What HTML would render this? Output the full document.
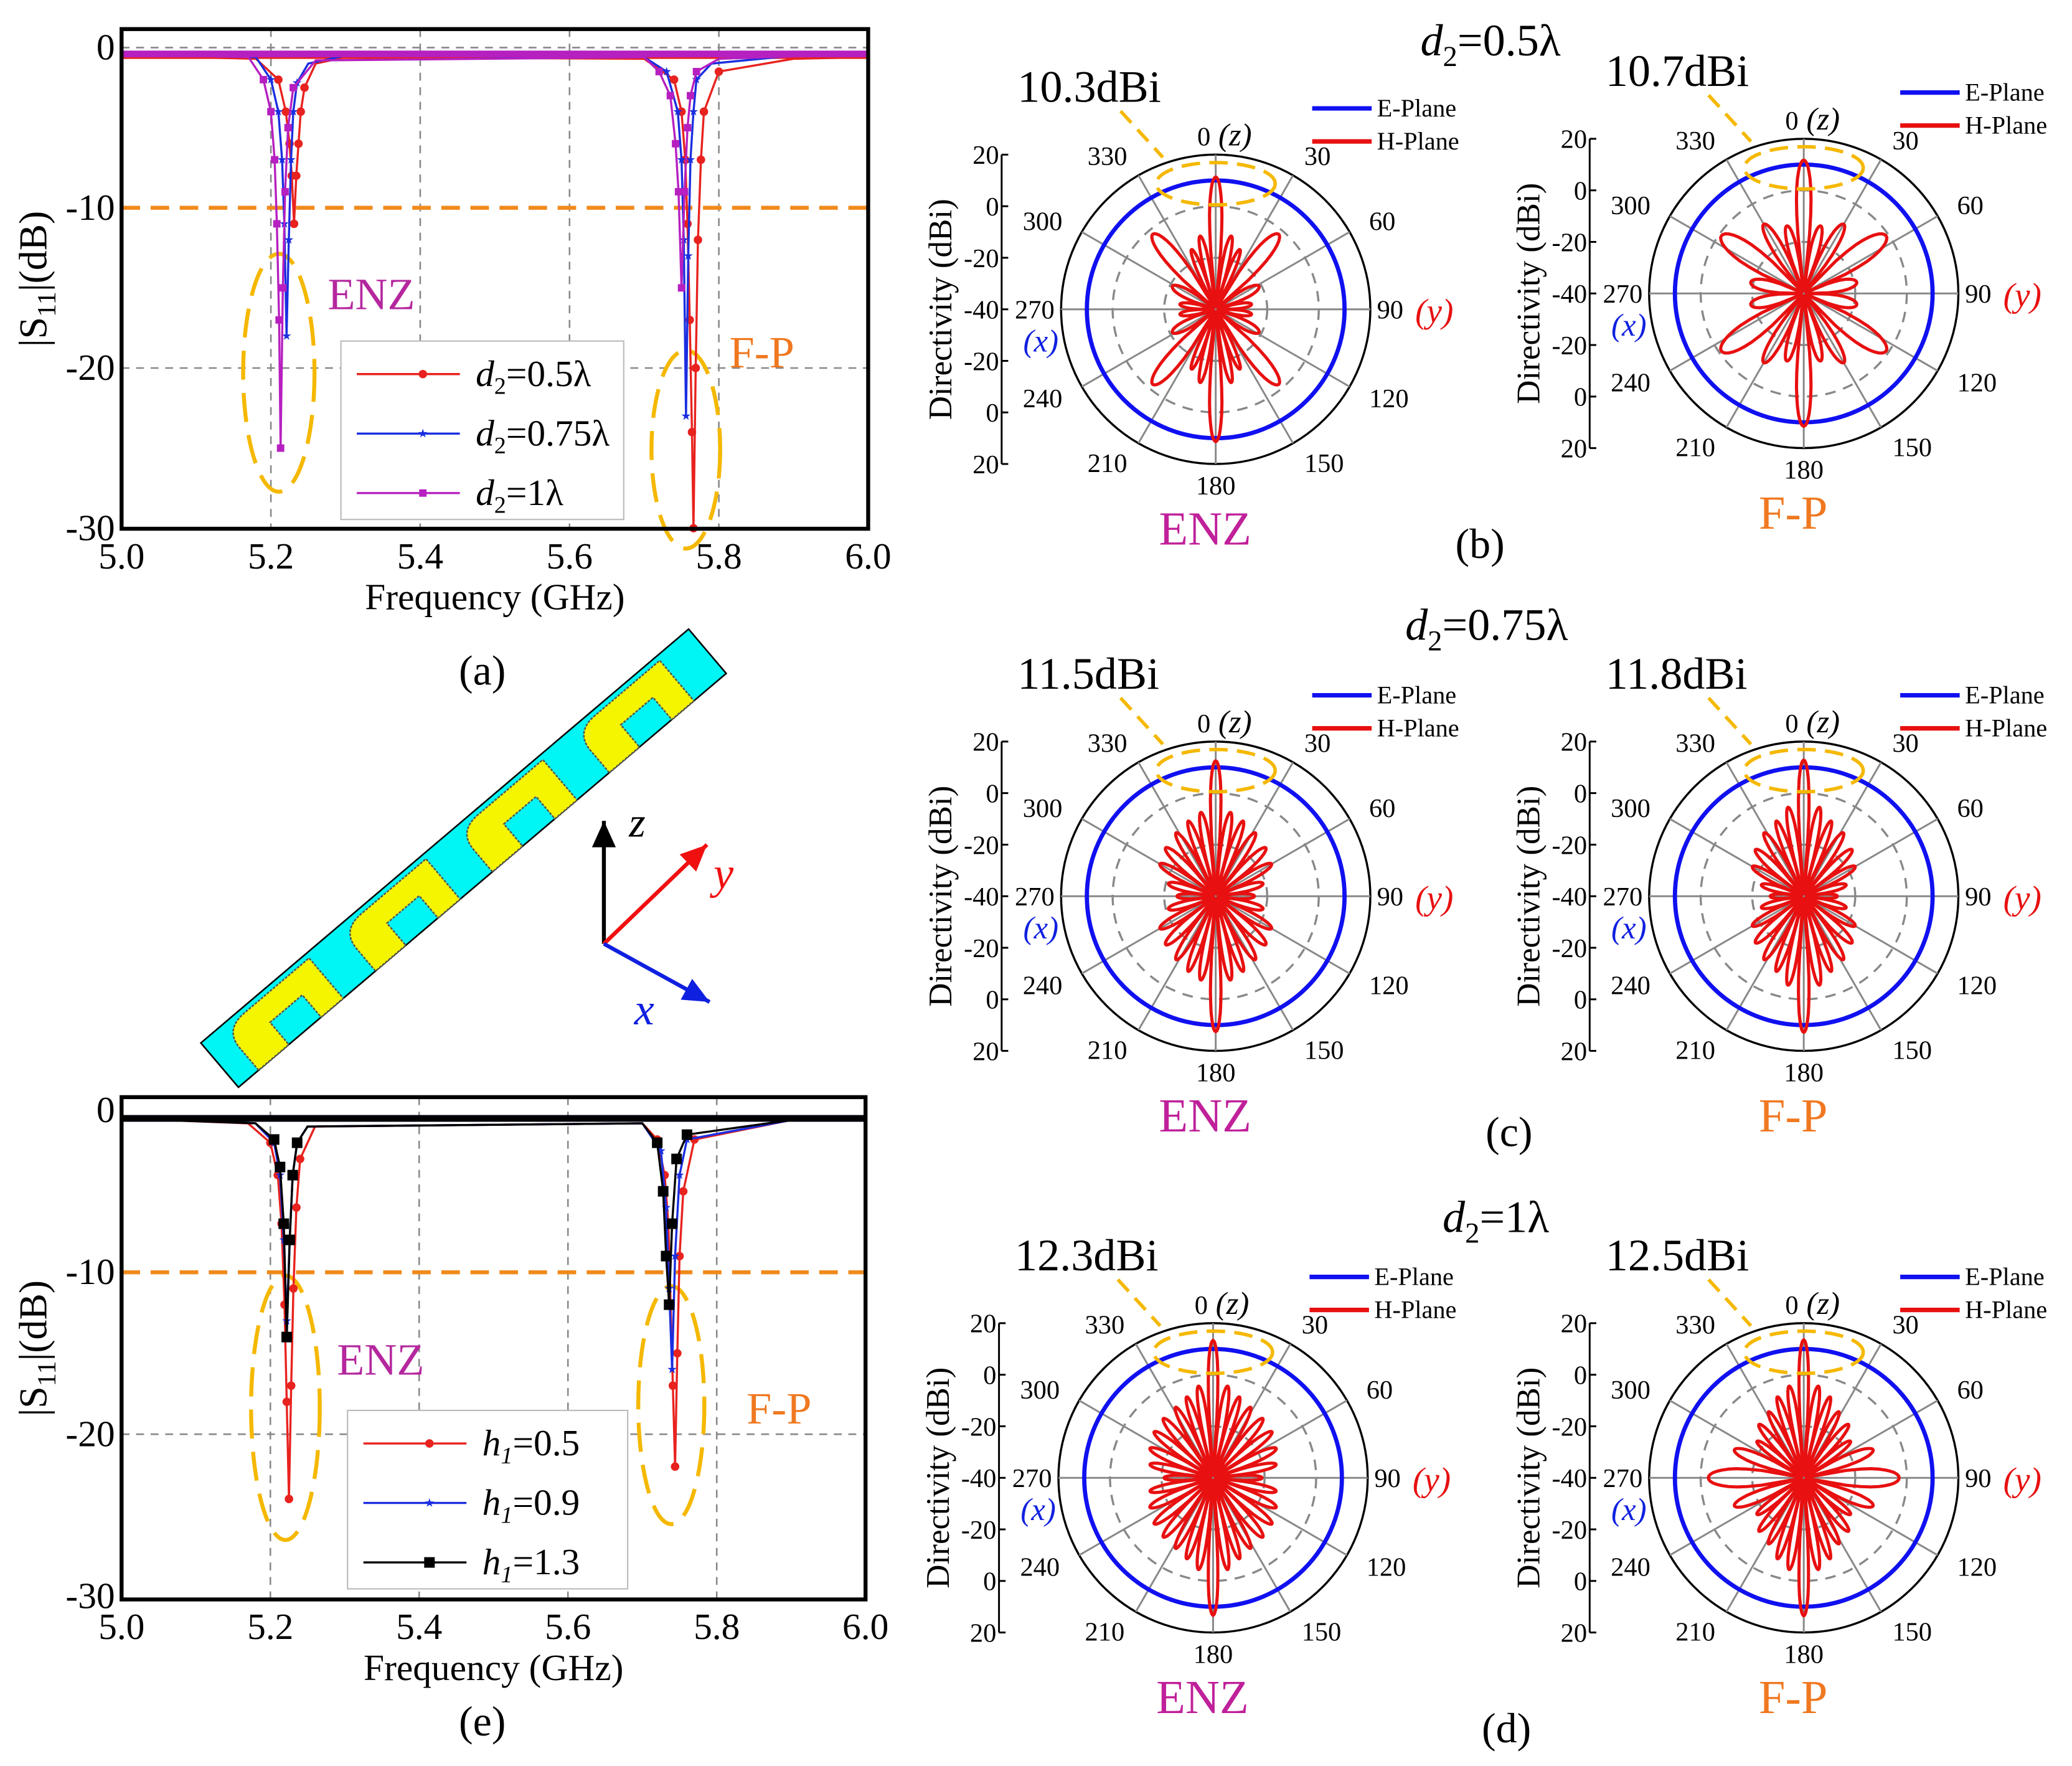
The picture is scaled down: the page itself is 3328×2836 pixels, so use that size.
<!DOCTYPE html>
<html><head><meta charset="utf-8"><style>
html,body{margin:0;padding:0;background:#fff;}
svg{display:block;font-family:"Liberation Serif","Times New Roman",serif;}
svg text{font-family:"Liberation Serif","Times New Roman",serif;}
</style></head><body>
<svg id="fig" xmlns="http://www.w3.org/2000/svg" width="3328" height="2836" viewBox="0 0 1568 1336" preserveAspectRatio="none" font-family="Liberation Serif, serif">
<rect width="1568" height="1336" fill="#fff"/>
</svg>
<script>
// ---------- S11 data (a) ----------
const aRedF=[5.0,5.18,5.21,5.22,5.225,5.228,5.231,5.234,5.237,5.24,5.245,5.26,5.3,5.7,5.74,5.75,5.755,5.758,5.761,5.764,5.766,5.769,5.772,5.776,5.78,5.8,5.9,6.0];
const aRedV=[-0.5,-0.7,-2,-4,-6,-8,-11,-8,-6,-4,-2.5,-1,-0.6,-0.7,-2,-4,-7,-11,-17,-24,-30,-20,-12,-7,-4,-1.5,-0.7,-0.6];
const aBlueF=[5.0,5.18,5.2,5.21,5.215,5.218,5.221,5.224,5.227,5.23,5.235,5.25,5.3,5.7,5.73,5.745,5.75,5.753,5.756,5.759,5.762,5.766,5.77,5.79,5.9,6.0];
const aBlueV=[-0.4,-0.6,-2,-4,-7,-11,-18,-12,-7,-4,-2.2,-1,-0.5,-0.6,-1.5,-4,-7,-12,-23,-13,-7,-4,-2,-1,-0.5,-0.4];
const aPurF=[5.0,5.17,5.19,5.2,5.205,5.208,5.211,5.213,5.216,5.219,5.223,5.23,5.26,5.7,5.72,5.735,5.742,5.746,5.75,5.754,5.758,5.762,5.77,5.8,6.0];
const aPurV=[-0.4,-0.6,-2,-4,-7,-11,-17,-25,-15,-9,-5,-2.5,-0.8,-0.6,-1.5,-3,-6,-9,-15,-9,-5,-3,-1.5,-0.7,-0.4];
// ---------- S11 data (e) ----------
const eRedF=[5.0,5.17,5.2,5.21,5.215,5.219,5.222,5.225,5.228,5.231,5.235,5.24,5.26,5.7,5.72,5.73,5.735,5.738,5.741,5.744,5.747,5.75,5.755,5.77,5.9,6.0];
const eRedV=[-0.5,-0.8,-2,-4,-7,-12,-18,-24,-17,-11,-6,-3,-1,-0.8,-1.8,-4,-7,-12,-17,-22,-15,-9,-5,-1.8,-0.6,-0.5];
const eBlueF=[5.0,5.18,5.205,5.213,5.218,5.222,5.226,5.23,5.236,5.25,5.7,5.725,5.732,5.736,5.74,5.744,5.75,5.76,5.9,6.0];
const eBlueV=[-0.5,-0.8,-2,-4,-8,-13,-8,-4,-2,-1,-0.8,-2.5,-6,-11,-16,-9,-4,-1.8,-0.6,-0.5];
const eBlkF=[5.0,5.18,5.205,5.213,5.218,5.222,5.226,5.23,5.236,5.25,5.7,5.72,5.728,5.732,5.736,5.74,5.746,5.76,5.9,6.0];
const eBlkV=[-0.5,-0.8,-1.8,-3.5,-7,-14,-8,-4,-2,-1,-0.8,-2,-5,-9,-12,-7,-3,-1.5,-0.6,-0.5];
const xTicks=["5.0","5.2","5.4","5.6","5.8","6.0"];
const yTicks=["0","-10","-20","-30"];
// ---------- Polar data (lobe directions in deg, peak directivity dBi) ----------
const lobeAngB1=[0,12,22,40,62,82,98,118,140,158,168,180,192,202,220,242,262,278,298,320,338,348];
const lobeValB1=[10.3,-12,-16,-3,-22,-27,-27,-22,-3,-16,-12,10.3,-12,-16,-3,-22,-27,-27,-22,-3,-16,-12];
const lobeAngB2=[0,14,30,55,78,102,125,150,166,180,194,210,235,258,282,305,330,346];
const lobeValB2=[10.7,-14,-10,-2,-20,-20,-2,-10,-14,10.5,-14,-10,-2,-20,-20,-2,-10,-14];
const lobeAngC1=[0,10,20,32,46,60,75,90,105,120,134,148,160,170,180,190,200,212,226,240,255,270,285,300,314,328,340,350];
const lobeValC1=[11.5,-8,-10,-12,-14,-16,-22,-26,-22,-16,-14,-12,-10,-8,11.5,-8,-10,-12,-14,-16,-22,-26,-22,-16,-14,-12,-10,-8];
const lobeAngC2=[0,10,20,32,46,60,75,90,105,120,134,148,160,170,180,190,200,212,226,240,255,270,285,300,314,328,340,350];
const lobeValC2=[11.8,-6,-10,-12,-15,-18,-24,-28,-24,-18,-15,-12,-10,-6,11.8,-6,-10,-12,-15,-18,-24,-28,-24,-18,-15,-12,-10,-6];
const lobeAngD1=[0,9,18,28,40,52,65,78,90,102,115,128,140,152,162,171,180,189,198,208,220,232,245,258,270,282,295,308,320,332,342,351];
const lobeValD1=[12.3,-5,-8,-10,-11,-12,-14,-16,-22,-16,-14,-12,-11,-10,-8,-5,12.3,-5,-8,-10,-11,-12,-14,-16,-22,-16,-14,-12,-11,-10,-8,-5];
const lobeAngD2=[0,9,18,28,40,52,68,90,112,128,140,152,162,171,180,189,198,208,220,232,248,270,292,308,320,332,342,351];
const lobeValD2=[12.5,-5,-8,-12,-14,-18,-12,-4,-12,-18,-14,-12,-8,-5,12.5,-5,-8,-12,-14,-18,-12,-4,-12,-18,-14,-12,-8,-5];
const gainB1=["10.3dBi"],gainB2=["10.7dBi"],gainC1=["11.5dBi"],gainC2=["11.8dBi"],gainD1=["12.3dBi"],gainD2=["12.5dBi"];
const ePlaneDb=10;
const rTicks=["20","0","-20","-40","-20","0","20"];

const NS="http://www.w3.org/2000/svg";
const svg=document.getElementById('fig');
const FF='"Liberation Serif", serif';
function mk(tag,attrs,parent){const e=document.createElementNS(NS,tag);for(const k in attrs)e.setAttribute(k,attrs[k]);(parent||svg).appendChild(e);return e;}
function txt(x,y,s,size,attrs,parent){const a=Object.assign({x:x,y:y,'font-size':size,'font-family':FF},attrs||{});const t=mk('text',a,parent);t.textContent=s;return t;}

// ---------- S11 plot ----------
function s11Plot(name,X0,X1,Y0,Y1,yZero,perTen,series,leg,label,ells,tags,zeroGrid){
  const g=mk('g',{});
  
  
  const xs=f=>X0+(f-5)*(X1-X0);
  const ys=v=>yZero-v/10*perTen;
  for(let i=1;i<5;i++){const l=mk('line',{x1:xs(5+i*0.2),x2:xs(5+i*0.2),y1:Y0,y2:Y1,stroke:'#888','stroke-dasharray':'6,5','stroke-width':1.2},g);
    
    }
  (zeroGrid?[0,-20]:[-20]).forEach(v=>{const l=mk('line',{x1:X0,x2:X1,y1:ys(v),y2:ys(v),stroke:'#888','stroke-dasharray':'6,5','stroke-width':1.2},g);
    
    });
  const ref=mk('line',{x1:X0,x2:X1,y1:ys(-10),y2:ys(-10),stroke:'#f08a1c','stroke-dasharray':'14,8','stroke-width':3},g);
  
  
  ells.forEach(e=>{const el=mk('ellipse',{cx:e[0],cy:e[1],rx:e[2],ry:e[3],fill:'none',stroke:'#f5b800','stroke-width':3,'stroke-dasharray':'22,10'},g);
    
    });
  series.forEach(s=>{
    const pts=s.f.map((f,i)=>xs(f)+','+ys(s.v[i])).join(' ');
    const pl=mk('polyline',{points:pts,fill:'none',stroke:s.c,'stroke-width':1.6},g);
    
    
    const base=mk('line',{x1:X0,x2:X1,y1:ys(s.v[0]),y2:ys(s.v[0]),stroke:s.c,'stroke-width':5},g);
    
    
    s.f.forEach((f,i)=>{if(s.v[i]>-1.5)return;marker(g,s.m,xs(f),ys(s.v[i]),s.c,s.n);});
  });
  const fr=mk('rect',{x:X0,y:Y0,width:X1-X0,height:Y1-Y0,fill:'none',stroke:'#000','stroke-width':3},g);
  
  
  xTicks.forEach((t,i)=>{const tt=txt(xs(5+i*0.2),Y1+30,t,28,{'text-anchor':'middle'},g);
    
    });
  yTicks.forEach((t,i)=>{const tt=txt(X0-5,ys(-10*i)+9,t,28,{'text-anchor':'end'},g);
    
    });
  const xt=txt((X0+X1)/2,Y1+61,'Frequency (GHz)',28,{'text-anchor':'middle'},g);
  
  
  const yt=mk('text',{x:0,y:0,'font-size':30,'font-family':FF,transform:`translate(${X0-57},${(Y0+Y1)/2}) rotate(-90)`,'text-anchor':'middle'},g);
  yt.innerHTML='|S<tspan font-size="20" dy="7">11</tspan><tspan dy="-7">|(dB)</tspan>';
  
  
  tags.forEach(t=>{const tt=txt(t[0],t[1],t[2],34,{fill:t[3]},g);
    
    });
  const lg=mk('g',{},g);
  
  
  mk('rect',{x:leg.x,y:leg.y,width:leg.w,height:leg.h,fill:'#fff',stroke:'#bbb','stroke-width':1},lg);
  series.forEach((s,i)=>{
    const yy=leg.y+25+i*45;
    const ln=mk('line',{x1:leg.x+12,x2:leg.x+90,y1:yy,y2:yy,stroke:s.c,'stroke-width':1.6},lg);
    
    
    marker(lg,s.m,leg.x+62,yy,s.c,'legend');
    const t=mk('text',{x:leg.x+102,y:yy+9,'font-size':28,'font-family':FF},lg);
    t.innerHTML=s.lab;
    
    
  });
  const lb=txt(label[0],label[1],label[2],32,{'text-anchor':'middle'});
  
  
}
function marker(g,m,x,y,c,n){
  let e;
  if(m==='o')e=mk('circle',{cx:x,cy:y,r:3.2,fill:c},g);
  else if(m==='s')e=mk('rect',{x:x-2.8,y:y-2.8,width:5.6,height:5.6,fill:c},g);
  else if(m==='S')e=mk('rect',{x:x-4,y:y-4,width:8,height:8,fill:c},g);
  else {const p=[];for(let k=0;k<10;k++){const r=k%2?1.4:3.6,a=Math.PI*k/5-Math.PI/2;p.push((x+r*Math.cos(a))+','+(y+r*Math.sin(a)));}e=mk('polygon',{points:p.join(' '),fill:c},g);}
  
  
}
s11Plot('s11-plot-a',92,657,22,400,36,121.2,[
  {n:'d2-0.5',f:aRedF,v:aRedV,c:'#e8221e',m:'o',lab:'<tspan font-style="italic">d</tspan><tspan font-size="18" dy="6">2</tspan><tspan dy="-6">=0.5λ</tspan>'},
  {n:'d2-0.75',f:aBlueF,v:aBlueV,c:'#1a2ee0',m:'*',lab:'<tspan font-style="italic">d</tspan><tspan font-size="18" dy="6">2</tspan><tspan dy="-6">=0.75λ</tspan>'},
  {n:'d2-1',f:aPurF,v:aPurV,c:'#b61fc0',m:'s',lab:'<tspan font-style="italic">d</tspan><tspan font-size="18" dy="6">2</tspan><tspan dy="-6">=1λ</tspan>'}
],{x:258,y:258,w:214,h:135},[365,518,'(a)'],[[211,282,27,90],[519,340,26,75]],[[248,234,'ENZ','#b5279e'],[552,278,'F-P','#f07820']],true);
s11Plot('s11-plot-e',92,655,830,1210,840,122.5,[
  {n:'h1-0.5',f:eRedF,v:eRedV,c:'#e8221e',m:'o',lab:'<tspan font-style="italic">h</tspan><tspan font-size="18" dy="6" font-style="italic">1</tspan><tspan dy="-6">=0.5</tspan>'},
  {n:'h1-0.9',f:eBlueF,v:eBlueV,c:'#1a2ee0',m:'*',lab:'<tspan font-style="italic">h</tspan><tspan font-size="18" dy="6" font-style="italic">1</tspan><tspan dy="-6">=0.9</tspan>'},
  {n:'h1-1.3',f:eBlkF,v:eBlkV,c:'#000',m:'S',lab:'<tspan font-style="italic">h</tspan><tspan font-size="18" dy="6" font-style="italic">1</tspan><tspan dy="-6">=1.3</tspan>'}
],{x:263,y:1067,w:212,h:135},[365,1313,'(e)'],[[216,1065,26,100],[508,1063,25,90]],[[255,1040,'ENZ','#b5279e'],[565,1077,'F-P','#f07820']],false);

// ---------- antenna illustration ----------
(function(){
  const g=mk('g',{});
  
  
  const ang=Math.atan2(476-789,521-152)*180/Math.PI;
  const loc=mk('g',{transform:`translate(152,789) rotate(${ang})`},g);
  const strip=mk('rect',{x:0,y:0,width:484,height:44,fill:'#00f5f5',stroke:'#000','stroke-width':1.2},loc);
  
  
  [62,178,294,410].forEach(c=>{
    const cs=mk('path',{d:`M${c-42},44 L${c-42},22 Q${c-42},4 ${c-22},4 L${c+42},4 L${c+42},44 L${c+20},44 L${c+20},22 L${c-12},22 L${c-12},44 Z`,fill:'#f5f500',stroke:'#555','stroke-width':1.2,'stroke-dasharray':'2,1'},loc);
    
    
  });
  const arr=(x2,y2,c,n)=>{const a=mk('line',{x1:457,y1:714,x2:x2,y2:y2,stroke:c,'stroke-width':3},g);
    
    
    const th=Math.atan2(y2-714,x2-457),L=20,W=9;
    const p=[[x2,y2],[x2-L*Math.cos(th)+W*Math.sin(th),y2-L*Math.sin(th)-W*Math.cos(th)],[x2-L*Math.cos(th)-W*Math.sin(th),y2-L*Math.sin(th)+W*Math.cos(th)]];
    const h=mk('polygon',{points:p.map(q=>q.join(',')).join(' '),fill:c},g);
    
    };
  arr(457,621,'#000','z');arr(535,639,'#f01010','y');arr(537,758,'#1020e0','x');
  const tz=txt(476,633,'z',32,{'font-style':'italic'},g);
  const ty=txt(540,672,'y',34,{'font-style':'italic',fill:'#f01010'},g);
  const tx=txt(480,775,'x',34,{'font-style':'italic',fill:'#1020e0'},g);
})();

// ---------- polar plots ----------
function polar(name,cx,cy,angs,vals,gain,bottom,bcol){
  const R=117,rr=d=>(d+40)/60*R;
  const g=mk('g',{});
  
  
  const oc=mk('circle',{cx:cx,cy:cy,r:R,fill:'none',stroke:'#000','stroke-width':1.6},g);
  
  
  [0,-20].forEach(d=>{const c=mk('circle',{cx:cx,cy:cy,r:rr(d),fill:'none',stroke:'#888','stroke-width':1.6,'stroke-dasharray':'8,6'},g);
    
    });
  for(let a=0;a<360;a+=30){const t=a*Math.PI/180;
    const l=mk('line',{x1:cx,y1:cy,x2:cx+R*Math.sin(t),y2:cy-R*Math.cos(t),stroke:'#888','stroke-width':1.4},g);
    
    
    const lr=R+17;
    const lx=cx+lr*Math.sin(t),ly=cy-lr*Math.cos(t)+7;
    let anc=Math.abs(Math.sin(t))<0.2?'middle':(Math.sin(t)>0?'start':'end');
    let X=lx,Y=ly;
    if(a===0){X=cx-9;Y=cy-R-7;}
    if(a===180){Y=cy+R+23;}
    if(a===90)X=lx-12;
    if(a===270)X=lx+12;
    const tt=txt(X,Y,String(a),20,{'text-anchor':anc},g);
    
    }
  const tz=txt(cx+2,cy-R-7,'(z)',24,{'font-style':'italic'},g);
  const ty=txt(cx+R+34,cy+10,'(y)',26,{'font-style':'italic',fill:'#e81010'},g);
  const tx=txt(cx-R-2,cy+32,'(x)',24,{'font-style':'italic',fill:'#1020e0','text-anchor':'end'},g);
  const ax=cx-R-45;
  const ra=mk('line',{x1:ax,x2:ax,y1:cy-R,y2:cy+R,stroke:'#000','stroke-width':1.4},g);
  
  
  rTicks.forEach((t,i)=>{const y=cy-R+i*R/3;
    mk('line',{x1:ax,x2:ax+5,y1:y,y2:y,stroke:'#000','stroke-width':1.4},g);
    const tt=txt(ax-2,y+7,t,20,{'text-anchor':'end'},g);
    
    });
  const yt=txt(0,0,'Directivity (dBi)',25,{transform:`translate(${ax-38},${cy}) rotate(-90)`,'text-anchor':'middle'},g);
  
  
  const ep=mk('circle',{cx:cx,cy:cy,r:rr(ePlaneDb),fill:'none',stroke:'#1010f0','stroke-width':3.2},g);
  
  
  const pts=[];
  const n=angs.length;
  for(let i=0;i<n;i++){
    const a=angs[i],prev=angs[(i-1+n)%n],next=angs[(i+1)%n];
    const dl=((a-prev+360)%360)/2,dr=((next-a+360)%360)/2;
    const w=Math.min(dl,dr)*(vals[i]>5?0.9:1.0);
    const pk=rr(vals[i]);
    for(let k=-10;k<=10;k++){const off=k/10*w;const r=pk*Math.pow(Math.cos(Math.PI/2*k/10),0.45)+2;
      const t=(a+off)*Math.PI/180;pts.push((cx+r*Math.sin(t)).toFixed(1)+','+(cy-r*Math.cos(t)).toFixed(1));}
  }
  const hp=mk('polygon',{points:pts.join(' '),fill:'none',stroke:'#e81010','stroke-width':2.4,'stroke-linejoin':'round'},g);
  
  
  const he=mk('ellipse',{cx:cx,cy:cy-R+22,rx:45,ry:16,fill:'none',stroke:'#f5b800','stroke-width':2.6,'stroke-dasharray':'14,7'},g);
  
  
  const hl=mk('line',{x1:cx-72,y1:cy-R-33,x2:cx-40,y2:cy-R+2,stroke:'#f5b800','stroke-width':2.6,'stroke-dasharray':'12,7'},g);
  
  
  const gt=txt(cx-150,cy-R-40,gain[0],34,{},g);
  
  
  [['#1010f0','E-Plane'],['#e81010','H-Plane']].forEach((e,i)=>{const y=cy-152+i*25;
    const l=mk('line',{x1:cx+73,x2:cx+118,y1:y,y2:y,stroke:e[0],'stroke-width':3.4},g);
    
    
    const t=txt(cx+122,y+6,e[1],19,{},g);
    
    });
  const bt=txt(cx-8,cy+R+61,bottom,36,{'text-anchor':'middle',fill:bcol},g);
  
  
}
polar('polar-b-enz',920,234,lobeAngB1,lobeValB1,gainB1,'ENZ','#c0209a');
polar('polar-b-fp',1365,222,lobeAngB2,lobeValB2,gainB2,'F-P','#f07820');
polar('polar-c-enz',920,678,lobeAngC1,lobeValC1,gainC1,'ENZ','#c0209a');
polar('polar-c-fp',1365,678,lobeAngC2,lobeValC2,gainC2,'F-P','#f07820');
polar('polar-d-enz',918,1118,lobeAngD1,lobeValD1,gainD1,'ENZ','#c0209a');
polar('polar-d-fp',1365,1118,lobeAngD2,lobeValD2,gainD2,'F-P','#f07820');

[[1128,42,'0.5λ'],[1125,484,'0.75λ'],[1132,932,'1λ']].forEach(t=>{
  const e=mk('text',{x:t[0],y:t[1],'font-size':34,'font-family':FF,'text-anchor':'middle'});
  e.innerHTML='<tspan font-style="italic">d</tspan><tspan font-size="22" dy="8">2</tspan><tspan dy="-8">='+t[2]+'</tspan>';
  
  
});
[[1120,422,'(b)'],[1142,867,'(c)'],[1140,1318,'(d)']].forEach(t=>{
  const e=txt(t[0],t[1],t[2],32,{'text-anchor':'middle'});
  
  
});
</script>
</body></html>
